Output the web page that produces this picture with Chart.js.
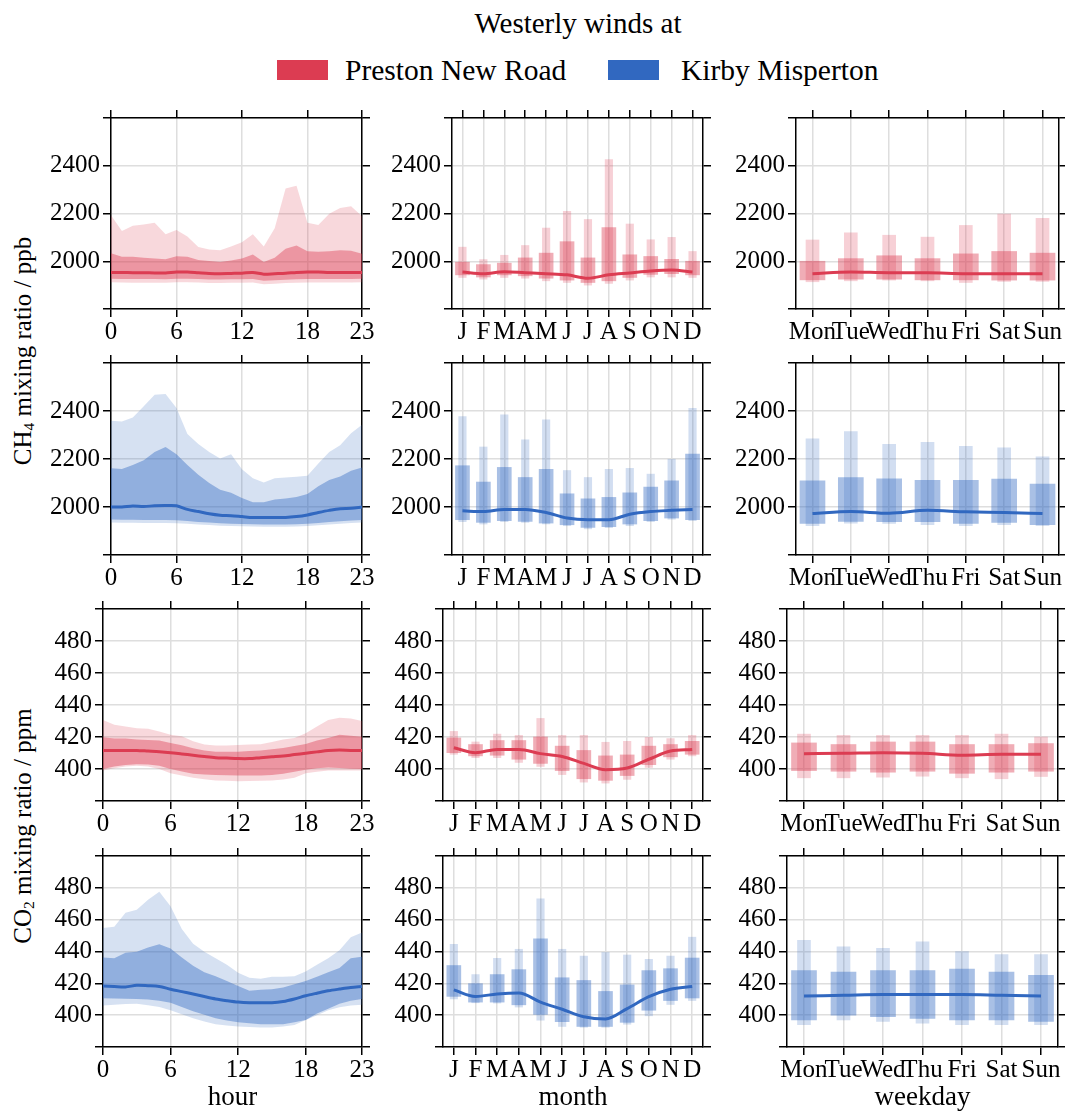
<!DOCTYPE html>
<html><head><meta charset="utf-8">
<script src="https://cdn.jsdelivr.net/npm/chart.js@4.4.1/dist/chart.umd.min.js"></script>
<style>
html,body{margin:0;padding:0;background:#fff;}
body{width:1065px;height:1111px;position:relative;overflow:hidden;font-family:"Liberation Serif","Times New Roman",serif;color:#000;}
.txt{position:absolute;white-space:nowrap;line-height:1;}
.patch{position:absolute;width:51px;height:20px;}
sub{font-size:0.62em;vertical-align:-0.25em;line-height:0;}
</style></head><body>
<div class="txt" style="left:578px;top:23px;transform:translate(-50%,-50%);font-size:29px;">Westerly winds at</div>
<div class="patch" style="left:277px;top:60px;background:rgb(220,60,82);"></div>
<div class="txt" style="left:345px;top:71px;transform:translateY(-50%);font-size:29.5px;">Preston New Road</div>
<div class="patch" style="left:608px;top:60px;background:rgb(49,104,192);"></div>
<div class="txt" style="left:681px;top:71px;transform:translateY(-50%);font-size:29.5px;">Kirby Misperton</div>
<div class="txt" style="left:22px;top:351px;transform:translate(-50%,-50%) rotate(-90deg);font-size:25px;">CH<sub>4</sub> mixing ratio / ppb</div>
<div class="txt" style="left:22px;top:826px;transform:translate(-50%,-50%) rotate(-90deg);font-size:25px;">CO<sub>2</sub> mixing ratio / ppm</div>
<script>
// ---------- categories & ticks ----------
const hours = [0,1,2,3,4,5,6,7,8,9,10,11,12,13,14,15,16,17,18,19,20,21,22,23];
const hourTicks = [0,6,12,18,23];
const monthLabels = ['J','F','M','A','M','J','J','A','S','O','N','D'];
const weekdayLabels = ['Mon','Tue','Wed','Thu','Fri','Sat','Sun'];
const ch4Ticks = [1800,2000,2200,2400,2600];
const co2Ticks = [380,400,420,440,460,480,500];

// ---------- Preston New Road CH4 ----------
const pnrCh4HourQ95 = [2193,2127,2149,2154,2161,2113,2131,2104,2060,2049,2046,2062,2080,2113,2062,2138,2305,2316,2161,2152,2199,2223,2230,2189];
const pnrCh4HourQ75 = [2033,2019,2019,2015,2012,2008,2021,2019,2005,2001,1997,2003,2012,2028,1997,2015,2052,2066,2042,2040,2042,2046,2044,2031];
const pnrCh4HourMed = [1953,1953,1952,1952,1951,1951,1955,1955,1952,1949,1948,1949,1950,1953,1946,1948,1950,1953,1955,1955,1953,1953,1953,1953];
const pnrCh4HourQ25 = [1927,1926,1926,1926,1926,1925,1927,1927,1926,1924,1924,1925,1925,1926,1918,1920,1923,1925,1926,1926,1926,1926,1926,1927];
const pnrCh4HourQ5  = [1912,1911,1910,1910,1910,1910,1912,1912,1911,1909,1909,1910,1910,1911,1904,1906,1909,1910,1911,1911,1911,1911,1911,1912];

const pnrCh4MonthQ95 = [2059,2007,2025,2066,2139,2209,2175,2426,2156,2090,2100,2041];
const pnrCh4MonthQ75 = [1996,1986,1992,2014,2034,2082,2014,2141,2027,2020,2008,2000];
const pnrCh4MonthMed = [1955,1948,1956,1952,1948,1943,1929,1943,1951,1959,1963,1955];
const pnrCh4MonthQ25 = [1943,1934,1943,1939,1929,1921,1911,1918,1932,1945,1948,1943];
const pnrCh4MonthQ5  = [1932,1925,1932,1929,1918,1911,1900,1907,1921,1934,1934,1932];

const pnrCh4DayQ95 = [2089,2119,2109,2101,2150,2198,2180];
const pnrCh4DayQ75 = [2000,2011,2023,2011,2031,2041,2034];
const pnrCh4DayMed = [1948,1955,1952,1952,1948,1948,1948];
const pnrCh4DayQ25 = [1922,1925,1925,1922,1922,1921,1921];
const pnrCh4DayQ5  = [1914,1918,1921,1918,1911,1915,1915];

// ---------- Kirby Misperton CH4 ----------
const kmCh4HourQ95 = [2359,2356,2373,2420,2468,2471,2413,2304,2263,2229,2202,2220,2157,2120,2102,2120,2123,2126,2130,2181,2229,2257,2307,2343];
const kmCh4HourQ75 = [2161,2158,2175,2195,2229,2250,2220,2175,2134,2100,2072,2059,2038,2020,2020,2031,2035,2042,2054,2086,2113,2127,2151,2165];
const kmCh4HourMed = [2000,2000,2004,2002,2005,2006,2005,1990,1981,1972,1966,1964,1960,1956,1956,1956,1956,1960,1967,1977,1986,1993,1995,2000];
const kmCh4HourQ25 = [1948,1947,1947,1946,1946,1946,1945,1942,1938,1935,1932,1930,1929,1928,1927,1927,1927,1928,1930,1933,1937,1941,1944,1946];
const kmCh4HourQ5  = [1935,1934,1934,1933,1933,1933,1932,1930,1927,1925,1922,1921,1920,1919,1918,1918,1918,1919,1921,1924,1927,1930,1933,1935];

const kmCh4MonthQ95 = [2377,2250,2384,2280,2363,2152,2123,2157,2161,2137,2199,2411];
const kmCh4MonthQ75 = [2172,2104,2165,2123,2157,2055,2034,2040,2059,2083,2109,2220];
const kmCh4MonthMed = [1984,1981,1990,1990,1977,1954,1947,1947,1970,1981,1986,1990];
const kmCh4MonthQ25 = [1947,1936,1943,1940,1933,1926,1915,1918,1929,1943,1954,1947];
const kmCh4MonthQ5  = [1939,1929,1939,1936,1929,1922,1909,1914,1922,1939,1949,1943];

const kmCh4DayQ95 = [2284,2314,2261,2269,2253,2247,2209];
const kmCh4DayQ75 = [2109,2123,2117,2111,2111,2116,2096];
const kmCh4DayMed = [1973,1981,1974,1986,1980,1977,1973];
const kmCh4DayQ25 = [1932,1940,1939,1939,1932,1936,1926];
const kmCh4DayQ5  = [1922,1933,1932,1926,1922,1926,1922];

// ---------- Preston New Road CO2 ----------
const pnrCo2HourQ95 = [430.6,427.6,426.5,425.5,425.1,423.5,421.4,420.4,417.3,415.3,414.7,414.7,415.0,415.3,415.5,416.9,418.4,419.4,422.4,426.5,430.6,432.0,431.6,430.0];
const pnrCo2HourQ75 = [419.8,419.0,419.0,418.4,418.2,417.8,416.3,414.9,412.9,411.6,410.8,410.8,410.8,411.2,411.6,412.3,413.2,414.3,415.7,417.8,419.4,421.4,420.8,420.2];
const pnrCo2HourMed = [411.6,411.6,411.6,411.6,411.2,410.8,410.2,409.4,408.6,407.8,407.1,406.8,406.5,406.5,407.1,407.6,408.1,409.0,409.8,410.7,411.6,411.8,411.6,411.6];
const pnrCo2HourQ25 = [400.0,401.5,402.5,403.0,402.8,402.0,400.0,398.5,397.0,396.6,396.3,396.1,395.9,395.9,395.9,396.3,397.0,398.3,399.6,400.5,401.0,400.6,400.2,400.0];
const pnrCo2HourQ5  = [399.0,400.5,401.5,402.0,401.5,400.0,397.3,395.9,394.5,393.6,392.8,392.6,392.4,392.5,392.6,392.8,393.5,394.5,397.3,398.3,399.0,399.0,399.0,399.0];

const pnrCo2MonthQ95 = [423.5,416.9,421.8,421.0,431.6,421.0,421.0,416.7,417.3,419.8,419.0,421.0];
const pnrCo2MonthQ75 = [419.4,415.3,417.8,417.8,420.0,414.3,411.6,408.2,408.8,414.3,415.3,417.3];
const pnrCo2MonthMed = [413.3,410.2,412.2,412.2,409.6,407.8,403.5,399.6,400.6,406.1,411.2,412.2];
const pnrCo2MonthQ25 = [410.2,408.2,408.6,406.1,403.5,399.0,393.9,392.9,395.9,402.7,407.6,409.2];
const pnrCo2MonthQ5  = [409.2,407.1,407.1,404.1,401.6,396.5,391.8,391.2,393.5,401.0,406.1,408.2];

const pnrCo2DayQ95 = [421.8,421.0,421.0,421.0,421.0,421.8,420.0];
const pnrCo2DayQ75 = [416.3,415.3,416.9,416.9,415.3,415.3,415.9];
const pnrCo2DayMed = [409.6,409.8,410.2,409.8,408.6,409.2,409.2];
const pnrCo2DayQ25 = [399.0,398.6,398.0,398.6,397.3,398.0,398.6];
const pnrCo2DayQ5  = [394.5,394.5,394.9,395.5,394.5,393.9,395.3];

// ---------- Kirby Misperton CO2 ----------
const kmCo2HourQ95 = [454.7,455.5,464.3,466.3,472.5,477.5,468.4,454.1,444.9,439.8,435.7,431.6,426.6,423.5,422.9,424.1,424.1,424.5,427.5,431.6,435.7,440.8,449.0,452.0];
const kmCo2HourQ75 = [436.3,435.7,439.2,439.8,442.5,444.5,441.9,436.3,431.0,426.9,424.5,421.4,418.4,415.3,415.9,416.3,417.4,419.4,421.4,424.1,426.9,429.6,435.7,436.7];
const kmCo2HourMed = [418.4,418.0,417.7,418.8,418.5,418.0,416.3,414.8,413.3,411.7,410.2,409.1,408.2,407.8,407.8,407.8,408.6,410.2,412.2,413.8,415.3,416.4,417.4,418.0];
const kmCo2HourQ25 = [410.6,410.4,410.3,410.2,409.8,409.0,407.8,405.2,402.5,400.2,398.0,396.7,395.5,394.9,394.3,394.3,394.3,395.5,397.0,401.0,404.0,407.2,409.0,410.2];
const kmCo2HourQ5  = [406.1,406.5,407.0,407.2,406.2,405.1,403.1,400.5,398.0,396.0,394.3,393.5,392.9,392.6,392.3,392.3,392.9,393.8,397.0,400.0,403.1,405.0,406.1,406.5];

const kmCo2MonthQ95 = [444.5,425.5,435.7,441.4,473.1,441.4,437.1,439.4,437.8,435.1,437.1,449.0];
const kmCo2MonthQ75 = [431.2,419.8,425.5,428.6,448.0,423.5,421.8,414.9,419.0,428.0,429.2,435.9];
const kmCo2MonthMed = [415.9,411.8,413.3,413.9,408.2,403.7,399.0,397.6,404.1,411.6,416.3,418.0];
const kmCo2MonthQ25 = [411.8,408.2,408.2,406.5,400.4,395.9,392.9,392.9,395.5,403.1,409.2,410.8];
const kmCo2MonthQ5  = [410.2,407.8,407.6,405.1,396.9,392.9,392.4,392.4,394.3,399.6,406.7,409.2];

const kmCo2DayQ95 = [447,443,442,446,440,438,438];
const kmCo2DayQ75 = [428,427,428,428,429,427,425];
const kmCo2DayMed = [412,412.5,413,413,413,412.5,412];
const kmCo2DayQ25 = [397,400,399,398,397,397,396];
const kmCo2DayQ5  = [394,397,396,395,394,394,394];

// ---------- styling / layout ----------
Chart.defaults.font.family = '"Liberation Serif","Times New Roman",serif';
Chart.defaults.font.size = 25;
Chart.defaults.color = '#000';

const RED = {line:'rgb(220,60,82)', light:'rgba(220,60,82,0.2)', dark:'rgba(220,60,82,0.42)', barLight:'rgba(220,60,82,0.24)', barDark:'rgba(220,60,82,0.42)'};
const BLUE = {line:'rgb(49,104,192)', light:'rgba(49,104,192,0.2)', dark:'rgba(49,104,192,0.42)', barLight:'rgba(49,104,192,0.22)', barDark:'rgba(49,104,192,0.42)'};

const ROWS = [[114,309],[359,555],[605,801],[852,1047]];
const COLS = [[[111,362],[452,703],[796,1059]], [[103,362],[443,703],[787,1058]]];
const PADL = 72, PADT = 14, PADR = 14;
const GRIDC = '#dedede';

function makePanel(row, col, kind, colors, d) {
  const [pl, pr] = COLS[row < 2 ? 0 : 1][col];
  const [pt, pb] = ROWS[row];
  const B = row === 3 ? 1111 - pb : 46;
  const w = pr - pl + PADL + PADR, h = pb - pt + PADT + B;
  const cv = document.createElement('canvas');
  cv.width = w; cv.height = h;
  cv.style.cssText = 'position:absolute;left:' + (pl - PADL) + 'px;top:' + (pt - PADT) + 'px;width:' + w + 'px;height:' + h + 'px;';
  document.body.appendChild(cv);

  let xs, xmin, xmax, xticks, xlab, title;
  if (kind === 'hour') { xs = hours; xmin = 0; xmax = 23; xticks = hourTicks; xlab = v => String(v); title = 'hour'; }
  else if (kind === 'month') { xs = monthLabels.map((_, i) => i + 1); xmin = 0.5; xmax = 12.5; xticks = xs; xlab = v => monthLabels[Math.round(v) - 1]; title = 'month'; }
  else { xs = weekdayLabels.map((_, i) => i + 1); xmin = 0.57; xmax = 7.43; xticks = xs; xlab = v => weekdayLabels[Math.round(v) - 1]; title = 'weekday'; }
  const yt = row < 2 ? ch4Ticks : co2Ticks;
  const pts = arr => arr.map((v, i) => ({x: xs[i], y: v}));

  let datasets;
  if (kind === 'hour') {
    datasets = [
      {type:'line', data: pts(d.q95), borderColor:'rgba(0,0,0,0)', borderWidth:1, backgroundColor: colors.light, pointRadius:0, fill:1, order:4, tension:0},
      {type:'line', data: pts(d.q5), borderColor:'rgba(0,0,0,0)', borderWidth:1, pointRadius:0, fill:false, order:3, tension:0},
      {type:'line', data: pts(d.q75), borderColor:'rgba(0,0,0,0)', borderWidth:1, backgroundColor: colors.dark, pointRadius:0, fill:3, order:2, tension:0},
      {type:'line', data: pts(d.q25), borderColor:'rgba(0,0,0,0)', borderWidth:1, pointRadius:0, fill:false, order:1, tension:0},
      {type:'line', data: pts(d.med), borderColor: colors.line, borderWidth:3, pointRadius:0, fill:false, order:0, tension:0.3}
    ];
  } else {
    const wide = kind === 'month' ? 14 : 25, thin = kind === 'month' ? 7.5 : 13;
    datasets = [
      {type:'bar', data: d.q5.map((v, i) => ({x: xs[i], y: [v, d.q95[i]]})), backgroundColor: colors.barLight, borderWidth:0, barThickness: thin, grouped:false, order:2},
      {type:'bar', data: d.q25.map((v, i) => ({x: xs[i], y: [v, d.q75[i]]})), backgroundColor: colors.barDark, borderWidth:0, barThickness: wide, grouped:false, order:1},
      {type:'line', data: pts(d.med), borderColor: colors.line, borderWidth:3, pointRadius:0, fill:false, order:0, cubicInterpolationMode:'monotone'}
    ];
  }

  const gridOpt = extra => Object.assign({color: GRIDC, lineWidth: 1.5, tickColor: '#000', tickWidth: 1.5, tickLength: 8, offset: false}, extra || {});
  const border = {color: '#000', width: 1.5};
  const setX = a => { a.ticks = xticks.map(v => ({value: v})); };
  const setY = a => { a.ticks = yt.map(v => ({value: v})); };

  new Chart(cv, {
    type: kind === 'hour' ? 'line' : 'bar',
    data: {datasets},
    options: {
      responsive: false, maintainAspectRatio: false, animation: false,
      layout: {padding: 0},
      plugins: {legend: {display: false}, tooltip: {enabled: false}},
      scales: {
        x: {type:'linear', position:'bottom', min:xmin, max:xmax, offset:false,
            afterBuildTicks: setX, afterFit: a => { a.height = B; },
            ticks: {autoSkip:false, maxRotation:0, minRotation:0, padding:0, callback: v => xlab(v)},
            grid: gridOpt(), border,
            title: {display: row === 3, text: title, font: {size: 27, lineHeight: 1.0}, padding: {top: 0, bottom: 0}}},
        x2: {type:'linear', position:'top', min:xmin, max:xmax, offset:false,
            afterBuildTicks: setX, afterFit: a => { a.height = PADT; },
            ticks: {display:false, autoSkip:false}, grid: gridOpt({drawOnChartArea:false}), border},
        y: {type:'linear', position:'left', min: yt[0], max: yt[yt.length - 1],
            afterBuildTicks: setY, afterFit: a => { a.width = PADL; },
            ticks: {autoSkip:false, padding:3, callback: (v, i) => (i === 0 || i === yt.length - 1) ? '' : String(v)},
            grid: gridOpt(), border},
        y2: {type:'linear', position:'right', min: yt[0], max: yt[yt.length - 1],
            afterBuildTicks: setY, afterFit: a => { a.width = PADR; },
            ticks: {display:false, autoSkip:false}, grid: gridOpt({drawOnChartArea:false}), border}
      }
    }
  });
}

const S = (q5, q25, med, q75, q95) => ({q5, q25, med, q75, q95});
makePanel(0, 0, 'hour', RED, S(pnrCh4HourQ5, pnrCh4HourQ25, pnrCh4HourMed, pnrCh4HourQ75, pnrCh4HourQ95));
makePanel(0, 1, 'month', RED, S(pnrCh4MonthQ5, pnrCh4MonthQ25, pnrCh4MonthMed, pnrCh4MonthQ75, pnrCh4MonthQ95));
makePanel(0, 2, 'weekday', RED, S(pnrCh4DayQ5, pnrCh4DayQ25, pnrCh4DayMed, pnrCh4DayQ75, pnrCh4DayQ95));
makePanel(1, 0, 'hour', BLUE, S(kmCh4HourQ5, kmCh4HourQ25, kmCh4HourMed, kmCh4HourQ75, kmCh4HourQ95));
makePanel(1, 1, 'month', BLUE, S(kmCh4MonthQ5, kmCh4MonthQ25, kmCh4MonthMed, kmCh4MonthQ75, kmCh4MonthQ95));
makePanel(1, 2, 'weekday', BLUE, S(kmCh4DayQ5, kmCh4DayQ25, kmCh4DayMed, kmCh4DayQ75, kmCh4DayQ95));
makePanel(2, 0, 'hour', RED, S(pnrCo2HourQ5, pnrCo2HourQ25, pnrCo2HourMed, pnrCo2HourQ75, pnrCo2HourQ95));
makePanel(2, 1, 'month', RED, S(pnrCo2MonthQ5, pnrCo2MonthQ25, pnrCo2MonthMed, pnrCo2MonthQ75, pnrCo2MonthQ95));
makePanel(2, 2, 'weekday', RED, S(pnrCo2DayQ5, pnrCo2DayQ25, pnrCo2DayMed, pnrCo2DayQ75, pnrCo2DayQ95));
makePanel(3, 0, 'hour', BLUE, S(kmCo2HourQ5, kmCo2HourQ25, kmCo2HourMed, kmCo2HourQ75, kmCo2HourQ95));
makePanel(3, 1, 'month', BLUE, S(kmCo2MonthQ5, kmCo2MonthQ25, kmCo2MonthMed, kmCo2MonthQ75, kmCo2MonthQ95));
makePanel(3, 2, 'weekday', BLUE, S(kmCo2DayQ5, kmCo2DayQ25, kmCo2DayMed, kmCo2DayQ75, kmCo2DayQ95));
</script>
</body></html>
